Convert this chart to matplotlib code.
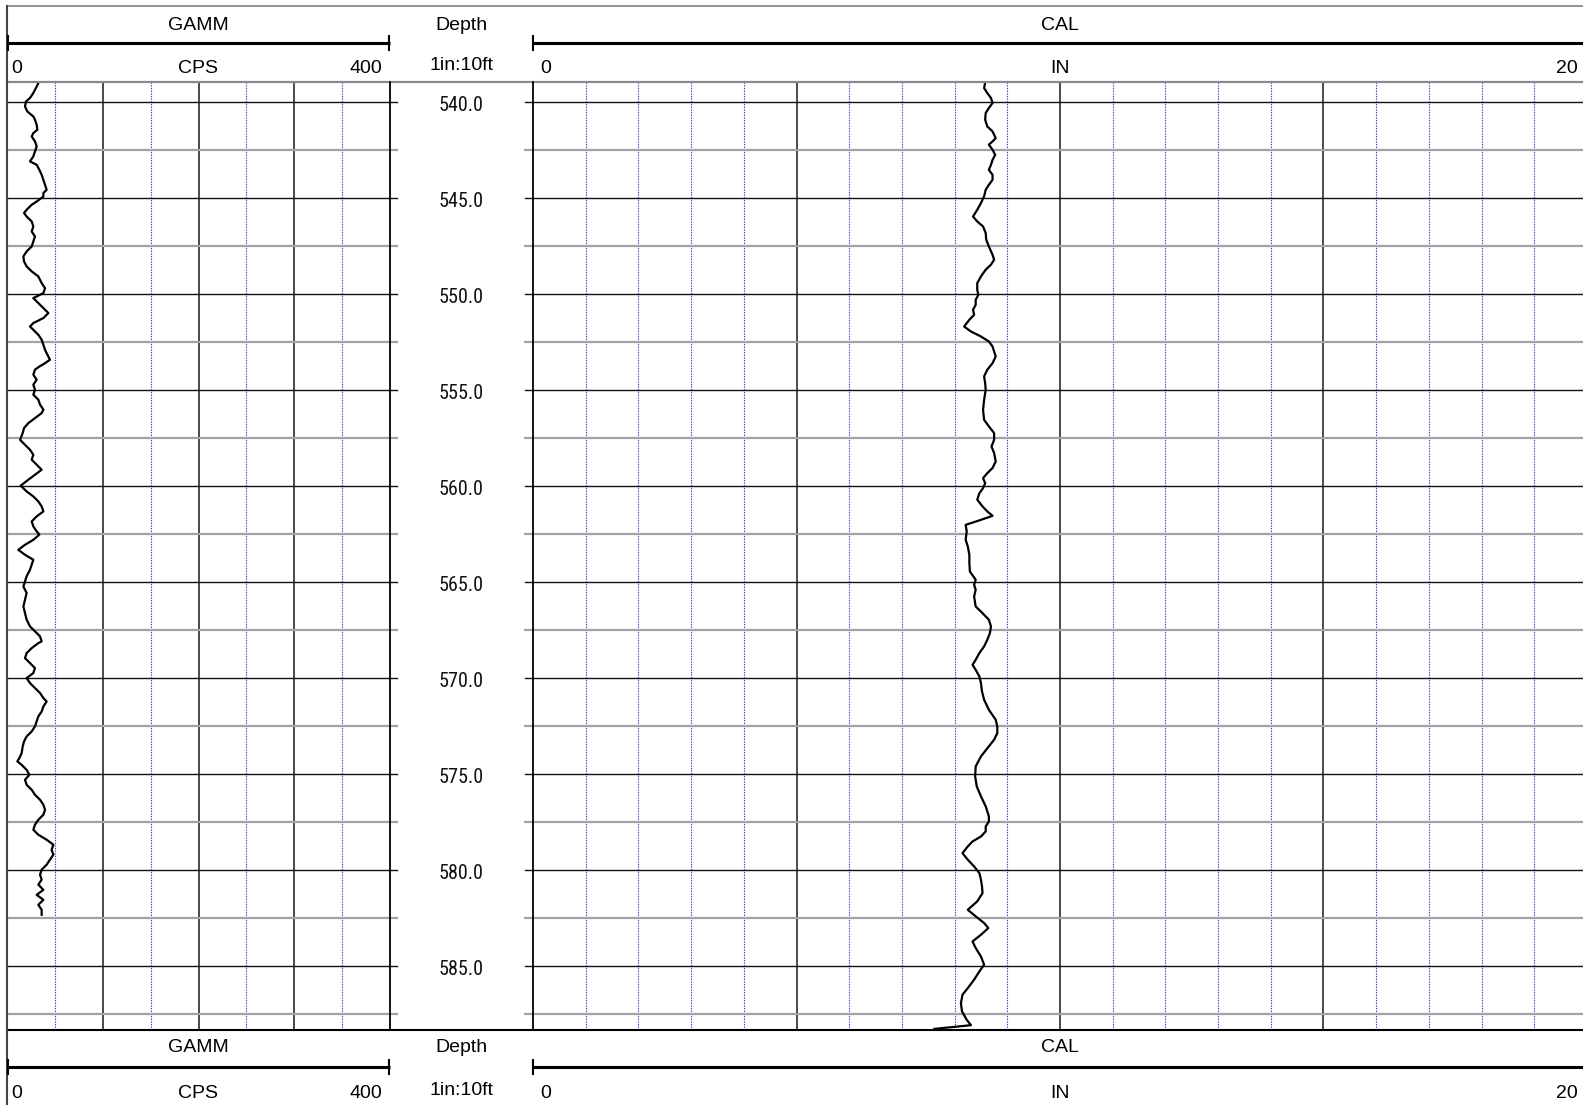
import matplotlib
matplotlib.use("Agg")
import matplotlib.pyplot as plt
from matplotlib import font_manager
import numpy as np

# ---------------- data ----------------
GAMM_DEPTH = [
    539.01, 539.19, 539.53, 539.79, 539.97, 540.23, 540.49, 540.75, 540.92, 541.18,
    541.44, 541.62, 541.79, 542.05, 542.31, 542.57, 542.83, 543.09, 543.27, 543.53,
    543.79, 544.05, 544.31, 544.57, 544.74, 544.92, 545.18, 545.35, 545.61, 545.78,
    545.96, 546.22, 546.48, 546.74, 547.00, 547.26, 547.52, 547.78, 548.04, 548.30,
    548.56, 548.82, 549.08, 549.43, 549.69, 549.95, 550.21, 550.47, 550.73, 550.99,
    551.25, 551.51, 551.69, 551.86, 552.12, 552.38, 552.64, 552.90, 553.08, 553.25,
    553.42, 553.60, 553.80, 553.94, 554.20, 554.46, 554.72, 554.98, 555.24, 555.50,
    555.76, 556.02, 556.20, 556.46, 556.72, 556.98, 557.24, 557.59, 557.85, 558.11,
    558.37, 558.63, 558.89, 559.15, 559.41, 559.67, 559.98, 560.28, 560.54, 560.80,
    561.06, 561.32, 561.58, 561.84, 562.10, 562.36, 562.53, 562.80, 563.06, 563.32,
    563.58, 563.84, 564.10, 564.36, 564.70, 564.97, 565.23, 565.57, 565.92, 566.27,
    566.61, 566.96, 567.31, 567.57, 567.83, 568.09, 568.18, 568.44, 568.70, 568.96,
    569.22, 569.48, 569.74, 570.00, 570.26, 570.52, 570.78, 571.04, 571.22, 571.48,
    571.74, 572.00, 572.26, 572.52, 572.78, 573.04, 573.30, 573.56, 573.91, 574.17,
    574.34, 574.52, 574.78, 575.04, 575.30, 575.56, 575.82, 576.08, 576.34, 576.60,
    576.86, 577.12, 577.38, 577.64, 577.90, 578.16, 578.42, 578.68, 578.94, 579.20,
    579.46, 579.72, 579.98, 580.24, 580.50, 580.76, 581.03, 581.29, 581.55, 581.81,
    582.07, 582.33,
]
GAMM_CPS = [
    32.7, 31.0, 27.5, 24.0, 19.8, 18.8, 21.2, 27.5, 29.2, 31.0,
    31.7, 27.5, 25.8, 29.2, 31.0, 29.2, 27.5, 24.0, 31.0, 33.8,
    36.2, 38.0, 39.7, 41.4, 38.0, 38.0, 31.0, 25.8, 20.5, 17.8,
    20.5, 25.8, 27.5, 25.8, 29.2, 27.5, 25.8, 20.5, 17.1, 17.8,
    20.5, 25.8, 32.7, 36.2, 39.7, 38.0, 27.5, 32.7, 38.0, 43.2,
    38.0, 27.5, 24.0, 27.5, 32.7, 36.2, 38.0, 39.7, 41.4, 43.2,
    44.9, 39.7, 33.0, 29.2, 27.5, 31.0, 27.5, 29.2, 27.5, 32.7,
    34.5, 38.0, 36.2, 29.2, 22.3, 17.8, 16.4, 13.6, 18.8, 24.0,
    27.5, 25.8, 31.0, 36.2, 29.2, 22.3, 14.3, 20.5, 27.5, 32.7,
    36.2, 38.0, 31.0, 25.8, 27.5, 31.0, 33.8, 27.5, 18.8, 11.8,
    18.8, 27.5, 25.8, 24.0, 20.5, 18.8, 17.1, 20.5, 18.8, 17.1,
    18.8, 20.5, 24.0, 29.2, 34.5, 36.2, 32.7, 25.8, 20.5, 18.8,
    24.0, 29.2, 27.5, 20.5, 24.0, 29.2, 34.5, 38.0, 41.4, 38.0,
    36.2, 32.7, 31.0, 29.2, 25.8, 20.5, 17.8, 16.4, 15.3, 12.9,
    10.8, 15.3, 20.5, 23.3, 18.8, 20.5, 25.8, 29.2, 34.5, 38.0,
    39.7, 38.0, 32.7, 29.2, 27.5, 32.7, 41.4, 48.4, 46.6, 48.4,
    44.9, 41.4, 36.2, 34.5, 36.2, 32.7, 38.0, 31.0, 38.0, 32.7,
    36.2, 36.2,
]

CAL_DEPTH = [
    538.98, 539.27, 539.53, 539.79, 540.05, 540.31, 540.57, 540.92, 541.27, 541.53,
    541.88, 542.05, 542.22, 542.48, 542.75, 543.01, 543.27, 543.53, 543.79, 544.05,
    544.31, 544.57, 544.91, 545.26, 545.61, 545.96, 546.22, 546.48, 546.82, 547.17,
    547.52, 547.95, 548.21, 548.47, 548.73, 549.08, 549.43, 549.78, 550.04, 550.30,
    550.56, 550.82, 551.08, 551.34, 551.69, 551.95, 552.21, 552.47, 552.73, 552.99,
    553.25, 553.60, 553.94, 554.29, 554.64, 554.98, 555.51, 556.03, 556.55, 556.89,
    557.24, 557.59, 557.94, 558.28, 558.72, 559.06, 559.33, 559.59, 559.85, 560.11,
    560.37, 560.71, 561.06, 561.32, 561.55, 561.76, 562.02, 562.36, 562.80, 563.14,
    563.58, 564.01, 564.45, 564.88, 565.14, 565.40, 565.75, 566.27, 566.62, 566.96,
    567.31, 567.66, 568.01, 568.35, 568.70, 569.05, 569.31, 569.57, 569.92, 570.26,
    570.70, 571.13, 571.65, 572.17, 572.52, 572.87, 573.21, 573.56, 574.08, 574.60,
    575.12, 575.64, 576.16, 576.68, 577.20, 577.47, 577.73, 577.99, 578.25, 578.51,
    578.77, 579.12, 579.46, 579.81, 580.16, 580.50, 580.85, 581.20, 581.63, 582.07,
    582.41, 582.76, 583.02, 583.37, 583.72, 584.06, 584.50, 584.93, 585.28, 585.71,
    586.15, 586.49, 586.93, 587.36, 587.80, 588.08, 588.27,
]
CAL_IN = [
    8.58, 8.56, 8.62, 8.69, 8.72, 8.65, 8.59, 8.58, 8.62, 8.72,
    8.78, 8.72, 8.65, 8.72, 8.77, 8.72, 8.69, 8.65, 8.72, 8.72,
    8.65, 8.59, 8.56, 8.50, 8.43, 8.35, 8.43, 8.54, 8.59, 8.60,
    8.65, 8.72, 8.75, 8.69, 8.59, 8.50, 8.43, 8.43, 8.45, 8.40,
    8.40, 8.35, 8.37, 8.28, 8.18, 8.31, 8.50, 8.65, 8.72, 8.75,
    8.78, 8.72, 8.62, 8.56, 8.58, 8.59, 8.56, 8.54, 8.56, 8.65,
    8.75, 8.75, 8.70, 8.75, 8.78, 8.72, 8.62, 8.54, 8.58, 8.54,
    8.47, 8.43, 8.53, 8.62, 8.72, 8.50, 8.21, 8.23, 8.21, 8.25,
    8.28, 8.28, 8.29, 8.40, 8.37, 8.40, 8.37, 8.40, 8.53, 8.65,
    8.69, 8.67, 8.62, 8.56, 8.47, 8.40, 8.34, 8.40, 8.47, 8.50,
    8.52, 8.56, 8.65, 8.78, 8.81, 8.81, 8.75, 8.65, 8.50, 8.40,
    8.39, 8.42, 8.50, 8.59, 8.65, 8.65, 8.59, 8.59, 8.50, 8.34,
    8.25, 8.15, 8.25, 8.37, 8.47, 8.50, 8.52, 8.53, 8.43, 8.25,
    8.40, 8.56, 8.64, 8.50, 8.34, 8.40, 8.50, 8.56, 8.47, 8.37,
    8.25, 8.15, 8.12, 8.14, 8.23, 8.31, 7.62,
]

GAMM_SCALE = (0, 400)
CAL_SCALE = (0, 20)
DEPTH_TOP, DEPTH_BOTTOM = 538.94, 588.33
DEPTH_LABELS = [540.0, 545.0, 550.0, 555.0, 560.0, 565.0, 570.0, 575.0, 580.0, 585.0]
MINOR_DEPTHS = [542.5, 547.5, 552.5, 557.5, 562.5, 567.5, 572.5, 577.5, 582.5, 587.5]

# ---------------- figure ----------------
W, H, DPI = 1583, 1105, 100
fig = plt.figure(figsize=(W / DPI, H / DPI), dpi=DPI)
fig.patch.set_facecolor("white")

available = {f.name for f in font_manager.fontManager.ttflist}
SANS = "Liberation Sans" if "Liberation Sans" in available else "DejaVu Sans"
NARROW = next((f for f in ["Liberation Sans Narrow", "Roboto Condensed", "Open Sans Condensed"]
               if f in available), SANS)

X_L, X_G, X_C, X_R = 7, 390, 533, 1587
Y_TOP = 6
Y_DT, Y_DB = 81.7, 1030


def add_px_axes(x0, x1, y0, y1):
    a = fig.add_axes([x0 / W, 1 - y1 / H, (x1 - x0) / W, (y1 - y0) / H])
    for s in a.spines.values():
        s.set_visible(False)
    a.set_xticks([])
    a.set_yticks([])
    a.patch.set_alpha(0)
    return a


ax_g = add_px_axes(X_L, X_G, Y_DT, Y_DB)
ax_d = add_px_axes(X_G, X_C, Y_DT, Y_DB)
ax_c = add_px_axes(X_C, X_R, Y_DT, Y_DB)
for a in (ax_g, ax_d, ax_c):
    a.set_ylim(DEPTH_BOTTOM, DEPTH_TOP)
ax_d.set_xlim(0, 1)

MAJ_V = "#3a3a48"
MIN_V = "#3b3bc8"
MAJ_H = "#111111"
MIN_H = "#a3a3a3"

for a, (lo, hi), maj, mnr in ((ax_g, GAMM_SCALE, 100, 50), (ax_c, CAL_SCALE, 5, 1)):
    a.set_xlim(lo, hi)
    for v in np.arange(lo + mnr, hi, mnr):
        if abs(v / maj - round(v / maj)) < 1e-9:
            a.axvline(v, color=MAJ_V, lw=1.3, zorder=1)
        else:
            a.axvline(v, color=MIN_V, lw=0.8, ls=(0, (1.2, 1.2)), zorder=1)
    for d in MINOR_DEPTHS:
        a.axhline(d, color=MIN_H, lw=1.6, zorder=1)
    for d in DEPTH_LABELS:
        a.axhline(d, color=MAJ_H, lw=1.0, zorder=1)

# depth track ticks and labels
tick_l = 7 / (X_C - X_G)
tick_r = 1 - 8 / (X_C - X_G)
for d in MINOR_DEPTHS:
    ax_d.axhline(d, xmin=0, xmax=tick_l, color=MIN_H, lw=1.6)
    ax_d.axhline(d, xmin=tick_r, xmax=1, color=MIN_H, lw=1.6)
for d in DEPTH_LABELS:
    ax_d.axhline(d, xmin=0, xmax=tick_l, color=MAJ_H, lw=1.0)
    ax_d.axhline(d, xmin=tick_r, xmax=1, color=MAJ_H, lw=1.0)
    ax_d.text(0.5, d + 0.2, f"{d:.1f}", ha="center", va="center",
              fontsize=14.5, family=NARROW, color="#111111")

# curves
ax_g.plot(GAMM_CPS, GAMM_DEPTH, color="black", lw=1.6, zorder=5)
ax_c.plot(CAL_IN, CAL_DEPTH, color="black", lw=1.6, zorder=5)

# ---------------- overlay: frame & headers ----------------
ov = fig.add_axes([0, 0, 1, 1])
ov.set_xlim(0, W)
ov.set_ylim(H, 0)
ov.axis("off")
ov.patch.set_alpha(0)

ov.plot([X_L, W], [Y_TOP, Y_TOP], color="#8a8a8a", lw=1.3)
ov.plot([X_L, W], [Y_DT, Y_DT], color="#8a8a8a", lw=1.6)
ov.plot([X_L, W], [Y_DB, Y_DB], color="black", lw=1.5)
ov.plot([X_L, X_L], [Y_TOP, H], color="#444444", lw=1.5)
ov.plot([X_G, X_G], [Y_DT, Y_DB], color="black", lw=1.3)
ov.plot([X_C, X_C], [Y_DT, Y_DB], color="black", lw=1.3)

FS = 14


def header(y_title, y_bar, y_lab, y_scale):
    cg = (X_L + X_G) / 2
    cd = (X_G + X_C) / 2
    cc = (X_C + X_R) / 2
    kw = dict(fontsize=FS, family=SANS, va="baseline")
    ov.text(cg, y_title, "GAMM", ha="center", **kw)
    ov.text(cd, y_title, "Depth", ha="center", **kw)
    ov.text(cc, y_title, "CAL", ha="center", **kw)
    ov.plot([X_L, X_G], [y_bar, y_bar], color="black", lw=2.2, solid_capstyle="butt")
    ov.plot([X_L + 1, X_L + 1], [y_bar - 7, y_bar + 7], color="black", lw=1.5)
    ov.plot([X_G - 1, X_G - 1], [y_bar - 7, y_bar + 7], color="black", lw=1.5)
    ov.plot([X_C, W], [y_bar, y_bar], color="black", lw=2.2, solid_capstyle="butt")
    ov.plot([X_C, X_C], [y_bar - 7, y_bar + 7], color="black", lw=1.5)
    ov.text(X_L + 4, y_lab, f"{GAMM_SCALE[0]}", ha="left", **kw)
    ov.text(cg, y_lab, "CPS", ha="center", **kw)
    ov.text(X_G - 8, y_lab, f"{GAMM_SCALE[1]}", ha="right", **kw)
    ov.text(cd, y_scale, "1in:10ft", ha="center", **kw)
    ov.text(X_C + 7, y_lab, f"{CAL_SCALE[0]}", ha="left", **kw)
    ov.text(cc, y_lab, "IN", ha="center", **kw)
    ov.text(W - 5, y_lab, f"{CAL_SCALE[1]}", ha="right", **kw)


header(29.5, 42.7, 73, 70)
header(1052, 1067, 1098, 1095)

fig.savefig("out.png", dpi=DPI, facecolor="white")
